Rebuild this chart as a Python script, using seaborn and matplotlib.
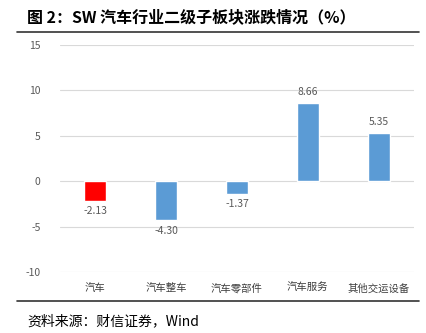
import matplotlib
matplotlib.use("Agg")
import matplotlib.pyplot as plt
import seaborn as sns
import pandas as pd
from matplotlib.lines import Line2D

categories = ["汽车", "汽车整车", "汽车零部件", "汽车服务", "其他交运设备"]
values = [-2.13, -4.30, -1.37, 8.66, 5.35]
bar_colors = ["#FF0000", "#5B9BD5", "#5B9BD5", "#5B9BD5", "#5B9BD5"]
yticks = [-10, -5, 0, 5, 10, 15]

sns.set_theme(style="white")
plt.rcParams['font.family'] = ['Noto Sans CJK SC', 'DejaVu Sans']

df = pd.DataFrame({"cat": categories, "val": values})

fig = plt.figure(figsize=(4.26, 3.33), dpi=100)
ax = fig.add_axes([60/426, 1-272/333, 354/426, (272-45)/333])

sns.barplot(data=df, x="cat", y="val", hue="cat", palette=bar_colors,
            legend=False, width=0.31, ax=ax, saturation=1)

ax.set_ylim(-10, 15)
ax.set_yticks(yticks)
ax.set_yticklabels([str(t) for t in yticks])
ax.set_xlim(-0.5, len(categories) - 0.5)
ax.yaxis.grid(True, color="#D9D9D9", linewidth=0.8)
ax.set_axisbelow(True)
for s in ax.spines.values():
    s.set_visible(False)
ax.set_xlabel("")
ax.set_ylabel("")
ax.tick_params(axis="y", length=0, labelsize=7.5, labelcolor="#595959", pad=14)
ax.tick_params(axis="x", length=0, labelsize=7.5, labelcolor="#404040", pad=8)

for i, v in enumerate(values):
    if v >= 0:
        ax.annotate(f"{v:.2f}", (i, v), xytext=(0, 4), textcoords="offset points",
                    ha="center", va="bottom", fontsize=7.5, color="#595959")
    else:
        ax.annotate(f"{v:.2f}", (i, v), xytext=(0, -4), textcoords="offset points",
                    ha="center", va="top", fontsize=7.5, color="#595959")

fig.text(27/426, 1-17/333, "图 2：SW 汽车行业二级子板块涨跌情况（%）", fontsize=11.5,
         fontweight="bold", ha="left", va="center", color="#000000")
fig.add_artist(Line2D([17/426, 419/426], [1-32/333, 1-32/333], color="#333333", linewidth=1.2))
fig.add_artist(Line2D([17/426, 419/426], [1-301/333, 1-301/333], color="#333333", linewidth=1.2))
fig.text(27/426, 1-321/333, "资料来源：财信证券，Wind", fontsize=10, style="italic",
         ha="left", va="center", color="#000000")

fig.savefig("out.png", dpi=100)
